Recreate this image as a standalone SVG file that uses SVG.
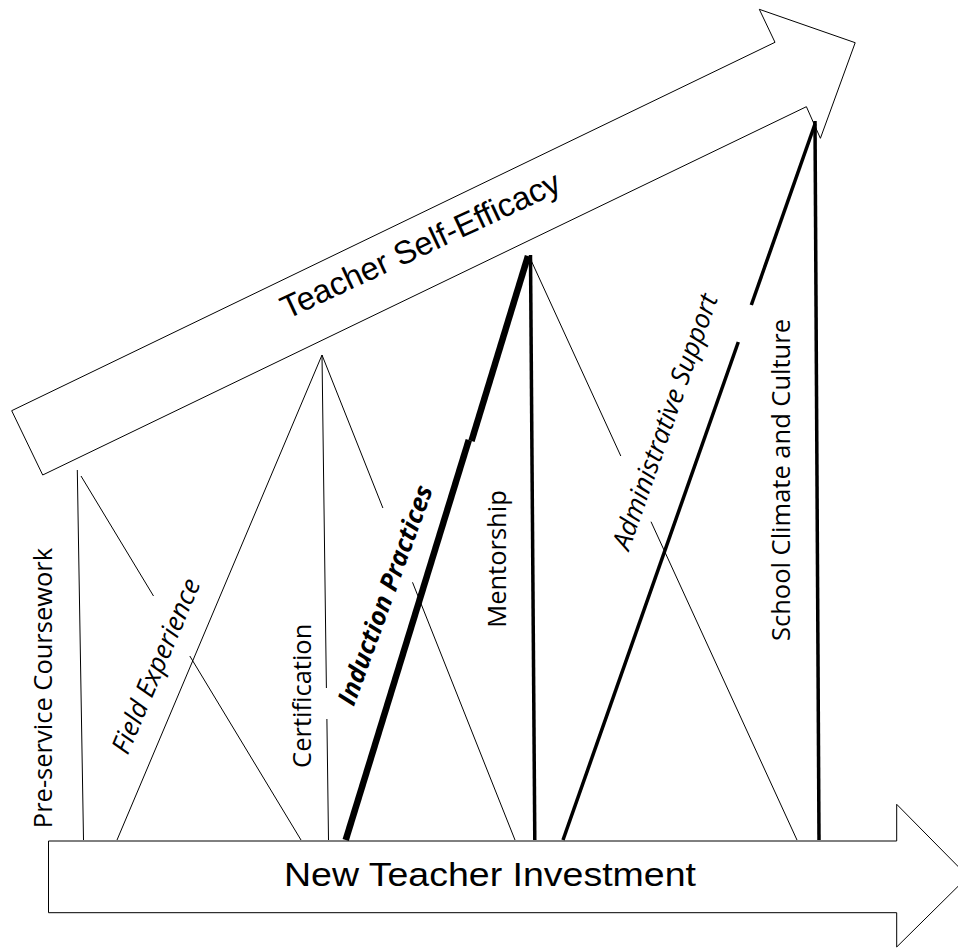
<svg xmlns="http://www.w3.org/2000/svg" width="958" height="948" viewBox="0 0 958 948">
  <style>
    .arrow { fill: #ffffff; stroke: #000000; stroke-width: 1; stroke-linejoin: miter; }
    .thin { stroke: #000000; stroke-width: 1; fill: none; }
    .bold { stroke: #000000; stroke-width: 3.5; fill: none; }
    .heavy { stroke: #000000; stroke-width: 6.5; fill: none; }
    .band { font-family: "Liberation Sans", Arial, sans-serif; fill: #000000; text-anchor: middle; }
    .lbl { font-family: "Open Sans", "DejaVu Sans", sans-serif; font-size: 25.5px; fill: #000000; text-anchor: middle; }
    .it { font-style: italic; font-size: 26.5px; }
    .bi { font-style: italic; font-weight: bold; font-size: 25.5px; }
  </style>

  <!-- rising band: Teacher Self-Efficacy -->
  <g id="teacher-self-efficacy">
    <polygon class="arrow" points="11.7,410.7 775,42.3 759.3,9.3 855.2,42.7 820.4,138.3 806.4,106.7 42.7,475"/>
    <text class="band" font-size="32.5" transform="translate(425,255) rotate(-25)">Teacher Self-Efficacy</text>
  </g>

  <!-- horizontal band: New Teacher Investment -->
  <g id="new-teacher-investment">
    <polygon class="arrow" points="48.5,841 896.7,841 896.7,804.3 968,876.5 896.7,947 896.7,912.7 48.5,912.7"/>
    <text class="band" font-size="34" x="490" y="886" textLength="412" lengthAdjust="spacingAndGlyphs">New Teacher Investment</text>
  </g>

  <!-- links between the two bands -->
  <g id="connectors">
    <!-- pre-service coursework -->
    <line class="thin" x1="77.3" y1="470" x2="83.5" y2="840"/>
    <line class="thin" x1="81" y1="476" x2="153.5" y2="596"/>
    <line class="thin" x1="189.8" y1="656" x2="301" y2="840"/>
    <!-- field experience / certification apex -->
    <line class="thin" x1="117" y1="840" x2="322" y2="355"/>
    <line class="thin" x1="322" y1="355" x2="326.4" y2="688"/>
    <line class="thin" x1="326.9" y1="719" x2="328.5" y2="840"/>
    <line class="thin" x1="322" y1="355" x2="382.9" y2="508"/>
    <line class="thin" x1="412.5" y1="582.3" x2="515" y2="840"/>
    <!-- induction practices / mentorship apex -->
    <line class="heavy" x1="528" y1="256" x2="471.5" y2="441"/>
    <line class="heavy" x1="468.8" y1="440" x2="345.7" y2="840"/>
    <line class="bold" x1="530.5" y1="255" x2="534.8" y2="840"/>
    <line class="thin" x1="530" y1="258" x2="620.8" y2="456"/>
    <line class="thin" x1="651" y1="521.7" x2="797" y2="840"/>
    <!-- administrative support / school climate apex -->
    <line class="bold" x1="563" y1="840" x2="738.3" y2="342"/>
    <line class="bold" x1="751.3" y1="305" x2="815" y2="124"/>
    <line class="bold" x1="815" y1="121" x2="819" y2="840"/>
  </g>

  <g id="pre-service-coursework">
    <text class="lbl" transform="translate(51.7,688) rotate(-90)">Pre-service Coursework</text>
  </g>
  <g id="field-experience">
    <text class="lbl it" transform="translate(164.3,669.5) rotate(-67)">Field Experience</text>
  </g>
  <g id="certification">
    <text class="lbl" transform="translate(311,695.8) rotate(-90)">Certification</text>
  </g>
  <g id="induction-practices">
    <text class="lbl bi" transform="translate(393.5,598) rotate(-70)">Induction Practices</text>
  </g>
  <g id="mentorship">
    <text class="lbl" transform="translate(506,559) rotate(-90)">Mentorship</text>
  </g>
  <g id="administrative-support">
    <text class="lbl it" transform="translate(673.5,424.7) rotate(-70.6)">Administrative Support</text>
  </g>
  <g id="school-climate-and-culture">
    <text class="lbl" transform="translate(790,480) rotate(-90)">School Climate and Culture</text>
  </g>
</svg>
